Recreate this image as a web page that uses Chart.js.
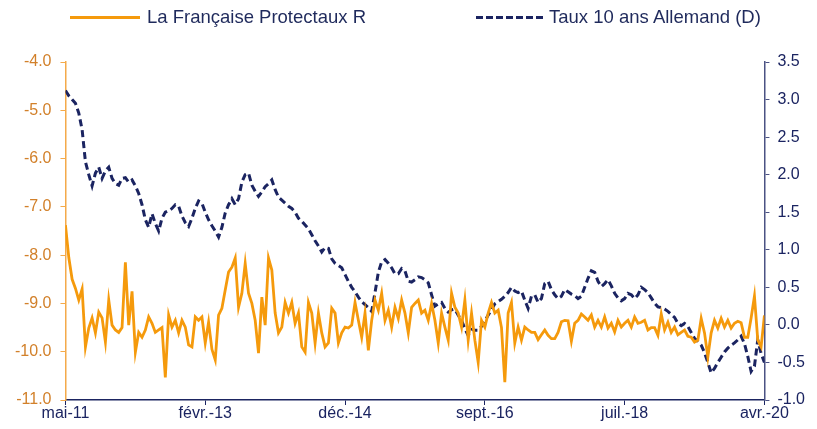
<!DOCTYPE html>
<html>
<head>
<meta charset="utf-8">
<script src="https://cdn.jsdelivr.net/npm/chart.js@4/dist/chart.umd.min.js"></script>
<style>
  body { margin: 0; background: #fff; font-family: 'Liberation Sans', Arial, sans-serif; }
  #wrap { position: relative; width: 817px; height: 429px; }
  #chart { position: absolute; left: 0; top: 0; }
  .item { position: absolute; top: 6px; height: 22px; display: flex; align-items: center; font-size: 18.5px; color: #1f2a5c; white-space: nowrap; }
  .swatch { width: 70px; height: 3px; }
</style>
</head>
<body>
<div id="wrap">
  <canvas id="chart" width="817" height="429"></canvas>
  <div id="legend"></div>
</div>
<script>
/* Protectaux vs Bund 10y — half-month steps, mai-11 .. avr.-20 */

const SERIES_NAMES = ['La Française Protectaux R', 'Taux 10 ans Allemand (D)'];
const TICK_LABELS  = ['mai-11', 'févr.-13', 'déc.-14', 'sept.-16', 'juil.-18', 'avr.-20'];

// left axis (fund)
const protectaux = [
  -7.38,-8.05,-8.5,-8.69,-8.93,-8.7,-9.9,-9.51,-9.3,-9.61,
  -9.18,-9.3,-9.8,-8.93,-9.45,-9.55,-9.6,-9.5,-8.15,-9.45,
  -8.75,-10.01,-9.6,-9.7,-9.55,-9.28,-9.41,-9.6,-9.55,-9.5,
  -10.53,-9.24,-9.49,-9.35,-9.61,-9.35,-9.49,-9.86,-9.9,-9.28,
  -9.35,-9.28,-9.82,-9.39,-9.95,-10.17,-9.24,-9.1,-8.72,-8.35,
  -8.25,-8.06,-9.08,-8.79,-8.17,-8.79,-9.0,-9.35,-10.03,-8.87,
  -9.45,-8.06,-8.31,-9.2,-9.61,-9.49,-8.98,-9.2,-8.98,-9.41,
  -9.2,-9.9,-10.01,-8.98,-9.2,-9.82,-9.2,-9.61,-9.9,-9.82,
  -9.1,-9.2,-9.82,-9.61,-9.49,-9.51,-9.45,-8.98,-9.35,-9.7,
  -9.2,-9.97,-9.35,-8.93,-9.14,-8.79,-9.35,-9.14,-9.49,-9.08,
  -9.31,-8.93,-9.2,-9.61,-9.08,-9.0,-8.93,-9.2,-9.14,-9.35,
  -9.0,-9.35,-9.82,-9.2,-9.49,-9.76,-8.79,-9.08,-9.2,-9.49,
  -8.93,-9.76,-9.2,-9.76,-10.22,-9.35,-9.49,-9.2,-8.98,-9.2,
  -9.14,-9.5,-10.63,-9.2,-8.98,-9.82,-9.49,-9.76,-9.49,-9.55,
  -9.6,-9.6,-9.75,-9.65,-9.55,-9.66,-9.73,-9.73,-9.6,-9.38,
  -9.35,-9.36,-9.78,-9.41,-9.35,-9.22,-9.28,-9.35,-9.24,-9.49,
  -9.35,-9.49,-9.28,-9.51,-9.41,-9.59,-9.35,-9.49,-9.41,-9.35,
  -9.49,-9.28,-9.41,-9.39,-9.35,-9.55,-9.5,-9.5,-9.66,-9.22,
  -9.55,-9.39,-9.6,-9.49,-9.65,-9.6,-9.55,-9.68,-9.7,-9.8,
  -9.76,-9.31,-9.61,-10.11,-9.61,-9.35,-9.51,-9.31,-9.49,-9.35,
  -9.51,-9.41,-9.37,-9.4,-9.7,-9.7,-9.3,-8.85,-9.76,-9.9,
  -9.25
];

// right axis (D)
const bund10y = [
  3.12,3.05,3.0,2.95,2.82,2.6,2.17,2.0,1.85,2.02,
  2.1,1.95,2.05,2.1,1.95,1.88,1.86,1.95,1.96,1.9,
  1.93,1.85,1.75,1.6,1.4,1.3,1.48,1.35,1.25,1.42,
  1.5,1.52,1.55,1.6,1.58,1.45,1.36,1.31,1.42,1.55,
  1.65,1.62,1.5,1.4,1.32,1.25,1.17,1.3,1.49,1.6,
  1.68,1.6,1.68,1.9,2.0,2.02,1.86,1.78,1.71,1.77,
  1.84,1.88,1.93,1.8,1.7,1.66,1.62,1.58,1.55,1.5,
  1.42,1.38,1.33,1.28,1.2,1.12,1.05,0.97,1.03,1.02,
  0.88,0.82,0.79,0.76,0.67,0.58,0.5,0.44,0.37,0.31,
  0.27,0.23,0.18,0.43,0.7,0.84,0.87,0.82,0.76,0.68,
  0.68,0.75,0.72,0.58,0.57,0.6,0.64,0.63,0.6,0.56,
  0.4,0.25,0.28,0.3,0.22,0.17,0.2,0.21,0.13,0.06,
  -0.05,-0.14,-0.06,-0.07,-0.07,-0.02,0.05,0.13,0.2,0.28,
  0.31,0.34,0.38,0.43,0.5,0.45,0.43,0.45,0.33,0.22,
  0.38,0.4,0.3,0.35,0.55,0.58,0.47,0.4,0.35,0.38,
  0.47,0.44,0.41,0.39,0.35,0.38,0.5,0.62,0.72,0.7,
  0.58,0.51,0.55,0.6,0.52,0.42,0.36,0.32,0.35,0.42,
  0.4,0.35,0.4,0.5,0.47,0.43,0.36,0.29,0.24,0.23,
  0.21,0.18,0.14,0.1,0.02,-0.01,0.02,-0.02,-0.1,-0.18,
  -0.22,-0.27,-0.37,-0.5,-0.64,-0.58,-0.5,-0.43,-0.36,-0.31,
  -0.27,-0.24,-0.2,-0.15,-0.25,-0.42,-0.62,-0.55,-0.2,-0.38,
  -0.5
];

const ORANGE     = '#F59A0C';
const ORANGE_AX  = '#F4AA4A';
const ORANGE_TXT = '#D2802A';
const NAVY       = '#1B2461';
const NAVY_AX    = '#4B5283';
const FONT       = { family: "'Liberation Sans', Arial, sans-serif", size: 16 };
const STEP       = 42;   // 21 months between labelled ticks, 2 points / month

// x positions are just the sample index
const idx = protectaux.map((_, i) => i);

// html legend (real text)
const legend = document.getElementById('legend');
[
  { name: SERIES_NAMES[0], left: 70,  gap: 7, bg: ORANGE },
  { name: SERIES_NAMES[1], left: 476, gap: 3, bg: `repeating-linear-gradient(to right, ${NAVY} 0 7px, transparent 7px 10px)` },
].forEach(it => {
  const d = document.createElement('div');
  d.className = 'item';
  d.style.left = it.left + 'px';
  d.innerHTML = `<span class="swatch" style="background:${it.bg};margin-right:${it.gap}px"></span><span>${it.name}</span>`;
  legend.appendChild(d);
});

new Chart(document.getElementById('chart'), {
  type: 'line',
  data: {
    labels: idx,
    datasets: [
      { label: SERIES_NAMES[0], data: protectaux, yAxisID: 'y',  borderColor: ORANGE, borderWidth: 2.8, pointRadius: 0, tension: 0, fill: false },
      { label: SERIES_NAMES[1], data: bund10y,    yAxisID: 'y1', borderColor: NAVY,   borderWidth: 3, borderDash: [7, 4], pointRadius: 0, tension: 0, fill: false },
    ],
  },
  options: {
    responsive: false, animation: false, devicePixelRatio: 1,
    layout: { padding: { top: 62, left: 6, right: 4, bottom: 6 } },
    plugins: { legend: { display: false }, tooltip: { enabled: false } },
    scales: {
      x: {
        type: 'linear', min: 0, max: protectaux.length - 1,
        ticks: { stepSize: STEP, color: NAVY, font: { ...FONT, lineHeight: 1 }, padding: 1, maxRotation: 0,
                 callback: v => TICK_LABELS[v / STEP] },
        grid: { drawOnChartArea: false, tickLength: 5, color: NAVY },
        border: { color: NAVY, width: 1.5 },
      },
      y: {
        position: 'left', min: -11, max: -4,
        ticks: { stepSize: 1, color: ORANGE_TXT, font: FONT, padding: 9, callback: v => v.toFixed(1) },
        grid: { drawOnChartArea: false, tickLength: 5, color: ORANGE_AX },
        border: { color: ORANGE_AX, width: 1.5 },
      },
      y1: {
        position: 'right', min: -1, max: 3.5,
        ticks: { stepSize: 0.5, color: NAVY, font: FONT, padding: 8, callback: v => v.toFixed(1) },
        grid: { drawOnChartArea: false, tickLength: 5, color: NAVY_AX },
        border: { color: NAVY_AX, width: 1.5 },
      },
    },
  },
});
</script>
</body>
</html>
